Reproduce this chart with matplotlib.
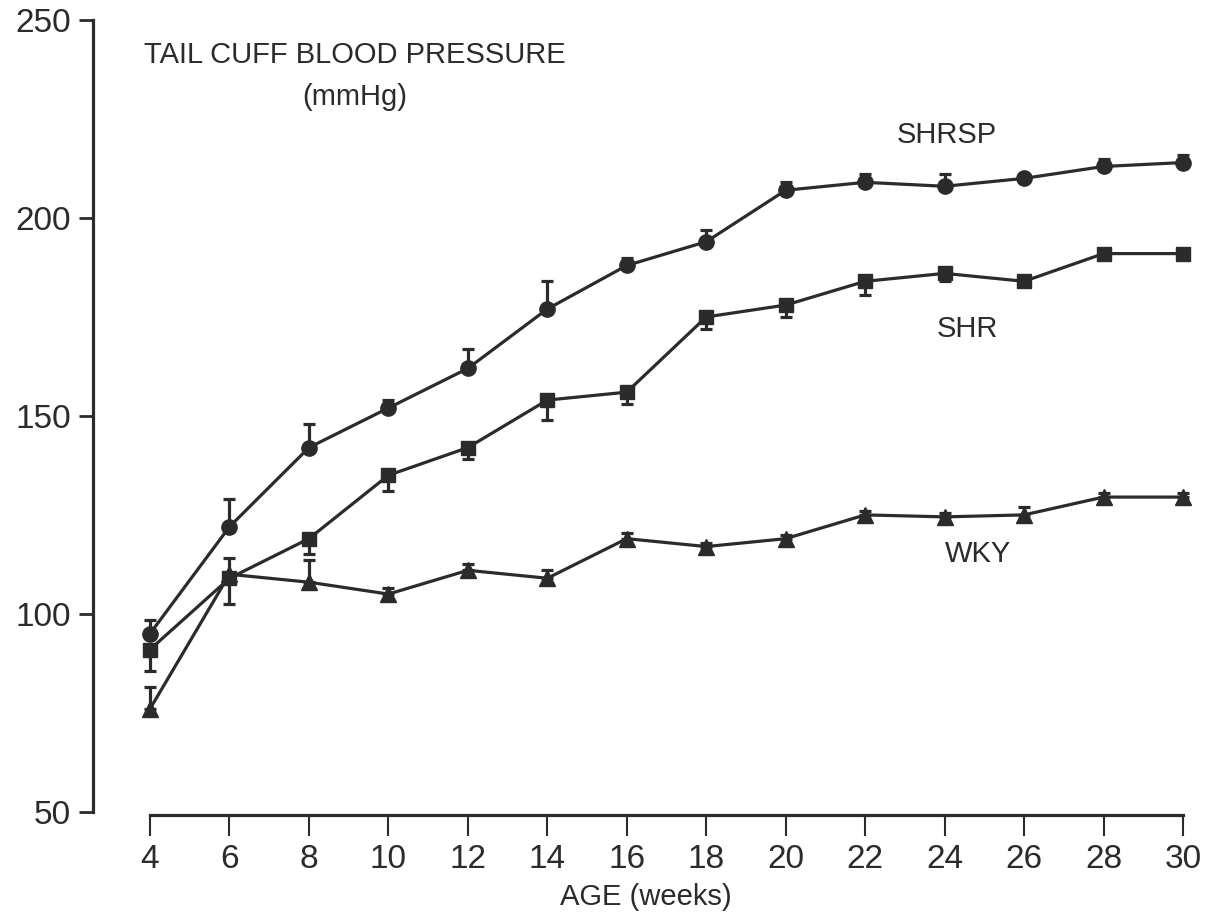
import matplotlib
matplotlib.use("Agg")
import matplotlib.pyplot as plt

age = [4, 6, 8, 10, 12, 14, 16, 18, 20, 22, 24, 26, 28, 30]
shrsp = [95, 122, 142, 152, 162, 177, 188, 194, 207, 209, 208, 210, 213, 214]
shrsp_err = [3.5, 7, 6, 2, 5, 7, 2, 3, 2, 2, 3, 0.5, 2, 2]
shr = [91, 109, 119, 135, 142, 154, 156, 175, 178, 184, 186, 184, 191, 191]
shr_err = [5.5, 6.5, 4, 4, 3, 5, 3, 3, 3, 3.5, 2, 0.5, 0.5, 0.5]
wky = [76, 110, 108, 105, 111, 109, 119, 117, 119, 125, 124.5, 125, 129.5, 129.5]
wky_err = [5.5, 4, 5.5, 1.5, 1.5, 2, 1.5, 1, 1, 1, 1, 2, 1, 1]
y_ticks = [50, 100, 150, 200, 250]
x_ticks = age

plt.rcParams['font.family'] = ['Liberation Sans', 'DejaVu Sans']

col = "#2b2b2b"
W, H = 1219, 919
fig = plt.figure(figsize=(W / 100, H / 100), dpi=100)
left, right, top, bottom = 93, 1200, 20, 815
ax = fig.add_axes([left / W, 1 - bottom / H, (right - left) / W, (bottom - top) / H])

px_per_week = (1183 - 150) / 26
ax.set_xlim(4 - (150 - left) / px_per_week, 4 + (right - 150) / px_per_week)
ax.set_ylim(49.2, 250)

ms = 11
ax.errorbar(age, shrsp, yerr=[[0] * len(age), shrsp_err], fmt='-o', color=col,
            lw=2.3, ms=ms, capsize=4, elinewidth=2.3, capthick=2.3)
ax.errorbar(age, shr, yerr=[shr_err, [0] * len(age)], fmt='-s', color=col,
            lw=2.3, ms=ms - 0.5, capsize=4, elinewidth=2.3, capthick=2.3)
ax.errorbar(age, wky, yerr=[[0] * len(age), wky_err], fmt='-^', color=col,
            lw=2.3, ms=ms, capsize=4, elinewidth=2.3, capthick=2.3)

for s in ['top', 'right']:
    ax.spines[s].set_visible(False)
ax.spines['left'].set_bounds(50, 250)
ax.spines['bottom'].set_bounds(4, 30)
for s in ['left', 'bottom']:
    ax.spines[s].set_linewidth(2.3)
    ax.spines[s].set_color(col)

ax.set_yticks(y_ticks)
ax.set_xticks(x_ticks)
ax.tick_params(axis='y', length=10, width=2, color=col, labelsize=24, pad=6, labelcolor=col)
ax.tick_params(axis='x', length=15, width=1.5, color=col, labelsize=24, pad=6, labelcolor=col)

fig.text(355 / W, 1 - 55 / H, "TAIL CUFF BLOOD PRESSURE", ha='center', va='center',
         fontsize=21, color=col)
fig.text(355 / W, 1 - 97 / H, "(mmHg)", ha='center', va='center', fontsize=21, color=col)

ax.text(22.8, 221, "SHRSP", ha='left', va='center', fontsize=21, color=col)
ax.text(23.8, 172, "SHR", ha='left', va='center', fontsize=21, color=col)
ax.text(24.0, 115, "WKY", ha='left', va='center', fontsize=21, color=col)

fig.text(646 / W, 1 - 897 / H, "AGE (weeks)", ha='center', va='center', fontsize=21, color=col)

fig.savefig("out.png", dpi=100)
